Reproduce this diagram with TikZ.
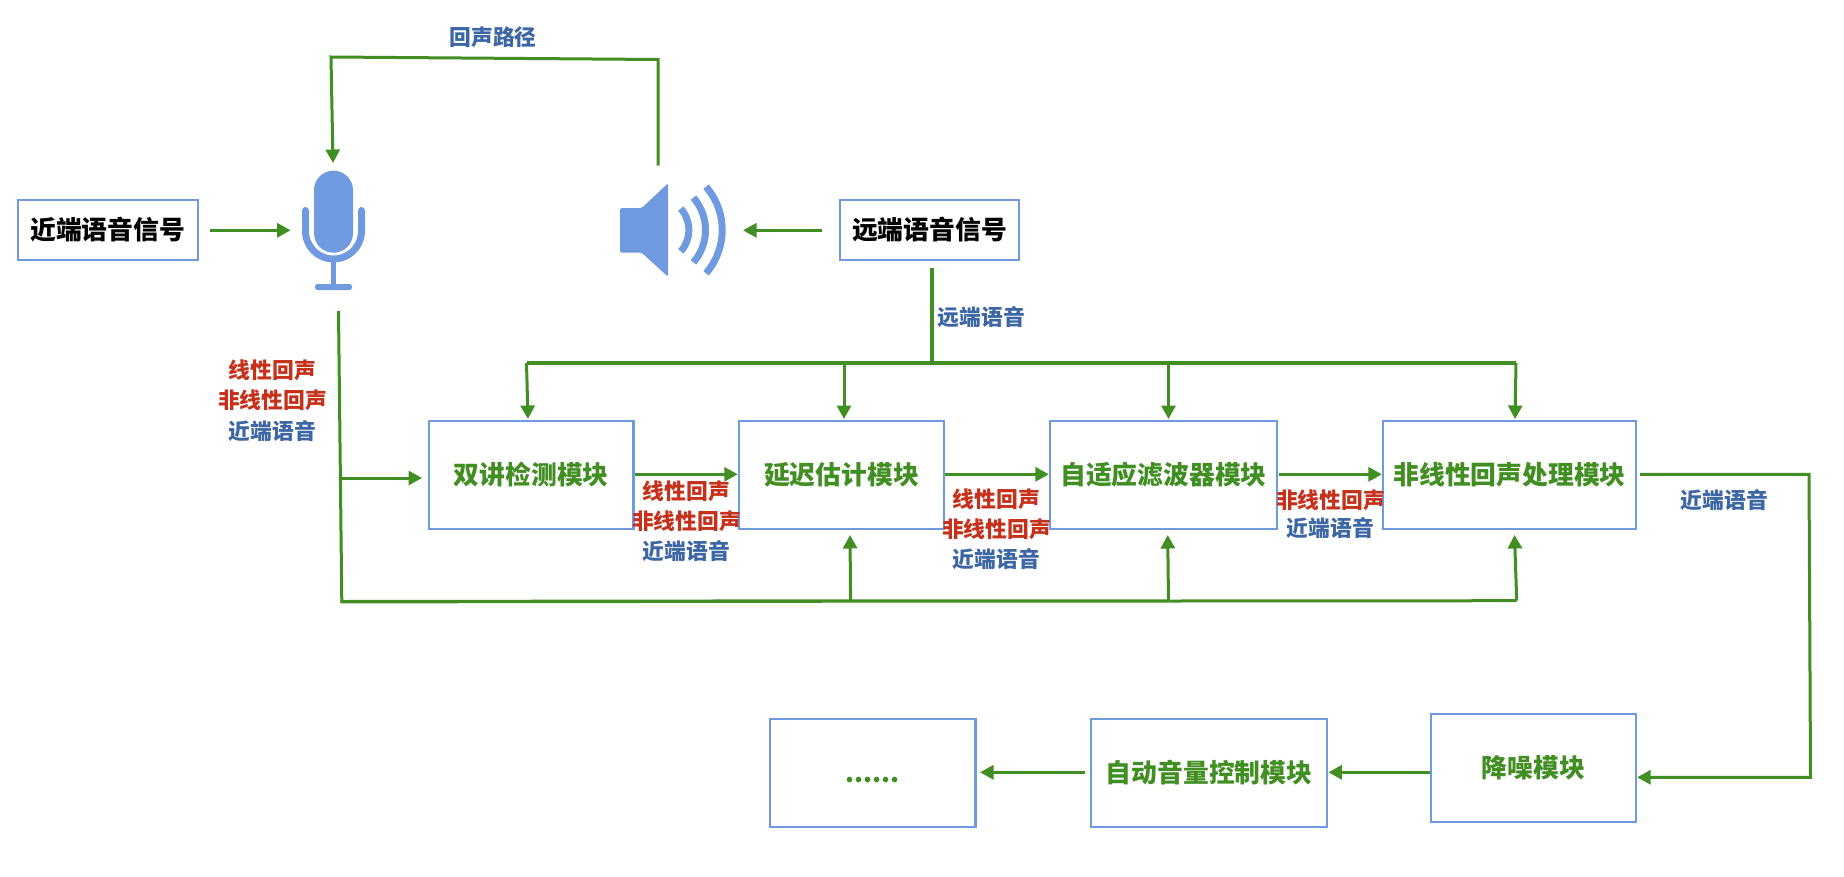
\documentclass[tikz,border=0pt]{standalone}
\usepackage{fontspec}
\setmainfont{Noto Sans CJK SC}
\usetikzlibrary{arrows.meta,calc}
\definecolor{wire}{HTML}{418E22}
\definecolor{edge}{HTML}{6F9ADF}
\definecolor{echo}{HTML}{C5311A}
\definecolor{speech}{HTML}{3D67A4}
\tikzset{
  x=1pt,y=-1pt,
  wireline/.style={draw=wire,line width=3pt,line join=miter},
  busline/.style={draw=wire,line width=3.4pt,line join=miter},
  arr/.style={wireline,-{Triangle[length=13.5pt,width=14pt]}},
  box/.style={draw=edge,line width=2.2pt,fill=white,rectangle,inner sep=0pt,
    text height=20.5pt,text depth=1pt,font=\bfseries\fontsize{25.8}{28}\selectfont},
  signal/.style={box,text=black},
  module/.style={box,text=wire},
  lab/.style={inner sep=0pt,font=\bfseries\fontsize{21.8}{24}\selectfont},
  echolab/.style={lab,text=echo},
  speechlab/.style={lab,text=speech},
  icon/.style={fill=edge,draw=none},
  iconline/.style={draw=edge,line width=7pt}
}
\begin{document}
\begin{tikzpicture}
\useasboundingbox (0,0) rectangle (1844,876);

% boxes
\node[signal,minimum width=180pt,minimum height=60.5pt] (near) at (107.6,230) {近端语音信号};
\node[signal,minimum width=179pt,minimum height=60.5pt] (far) at (929.5,230) {远端语音信号};
\node[module,minimum width=204.5pt,minimum height=108.3pt] (dt) at (531.2,474.8) {双讲检测模块};
\node[module,minimum width=205.3pt,minimum height=108.3pt] (delay) at (841.5,474.8) {延迟估计模块};
\node[module,minimum width=227pt,minimum height=108.3pt] (aec) at (1163.5,474.8) {自适应滤波器模块};
\node[module,minimum width=253pt,minimum height=108.3pt] (nlp) at (1509.5,474.8) {非线性回声处理模块};
\node[module,minimum width=205pt,minimum height=108.3pt] (ns) at (1533.5,768) {降噪模块};
\node[module,minimum width=236.6pt,minimum height=108.3pt] (agc) at (1209,772.8) {自动音量控制模块};
\node[module,minimum width=205.5pt,minimum height=108.3pt] (more) at (872.7,772.8) {......};

% microphone
\fill[icon,rounded corners=19.4pt] (314,170.7) rectangle (353,252.7);
\draw[iconline,line cap=round] (305.5,210.5) -- (305.5,231)
  -- plot[domain=180:0,samples=37,smooth] ({333.5+28*cos(\x)},{231+28*sin(\x)}) -- (361.5,210.5);
\draw[draw=edge,line width=5pt] (333.5,259) -- (333.5,285);
\fill[icon,rounded corners=2.5pt] (315,284) rectangle (352,290);
\node[inner sep=0pt,minimum width=63pt,minimum height=120pt] (mic) at (333.5,230.3) {};

% speaker
\fill[icon,rounded corners=1.5pt] (620,208) -- (641.7,208) -- (668,183.3) -- (668,276.7) -- (641.7,252.7) -- (620,252.7) -- cycle;
\foreach \r in {32.6,49.3,66}{
  \draw[iconline] plot[domain=-41:41,samples=25,smooth] ({656.2+\r*cos(\x)},{230+\r*sin(\x)});
}
\node[inner sep=0pt,minimum width=106pt,minimum height=94pt] (spk) at (673,230) {};

% junctions and free ends
\coordinate (pathTR) at (658,59.5);
\coordinate (pathTL) at (331,57);
\coordinate (pathStart) at (658,165.7);
\coordinate (pathEnd) at (333,163);
\coordinate (farBus) at (932,363);
\coordinate (busL) at (526.5,363);
\coordinate (busD) at (844,363);
\coordinate (busA) at (1168.5,363);
\coordinate (busR) at (1516,363);
\coordinate (micDown) at (338.5,311);
\coordinate (fbCorner) at (341.8,601.7);
\coordinate (fbD) at (850.6,601);
\coordinate (fbA) at (1168.5,601);
\coordinate (fbN) at (1516.7,600.7);
\coordinate (toDt) at (340.3,478);
\coordinate (outA) at (1809,474.3);
\coordinate (outB) at (1810.5,777.3);

% connectors
\draw[arr] (pathStart) -- (pathTR) -- (pathTL) -- (pathEnd);
\draw[arr] (210,230.3) -- (290.6,230.3);
\draw[arr] (822,230.3) -- (743,230.3);
\draw[busline] (932,268) -- (farBus);
\draw[busline] (busL) -- (busR);
\draw[arr] (busL) -- (528,419);
\draw[arr] (busD) -- (844,419);
\draw[arr] (busA) -- (1168.5,419);
\draw[arr] (busR) -- (1515,419);
\draw[wireline] (micDown) -- (fbCorner);
\draw[busline] ($(fbCorner)+(-1.5,0)$) -- (fbD) -- (fbA);
\draw[wireline] (fbA) -- (fbN);
\draw[arr] (toDt) -- (422,478);
\draw[arr] (fbD) -- (850,535);
\draw[arr] (fbA) -- (1167.7,535);
\draw[arr] (fbN) -- (1514.5,535);
\draw[arr] (dt.east |- 0,474.3) -- (delay.west |- 0,474.3);
\draw[arr] (delay.east |- 0,474.3) -- (aec.west |- 0,474.3);
\draw[arr] (1279,474.3) -- (nlp.west |- 0,474.3);
\draw[arr] (1640,474.3) -- (outA) -- (outB) -- (ns.east |- outB);
\draw[arr] (ns.west |- 0,772.3) -- (agc.east |- 0,772.3);
\draw[arr] (1085,772.3) -- (980,772.3);

% labels
\node[speechlab] (lpath) at (493,37) {回声路径};
\node[speechlab] (lfar) at (981.5,317) {远端语音};
\node[echolab] (l1a) at (272.5,370) {线性回声};
\node[echolab] (l1b) at (272.5,400) {非线性回声};
\node[speechlab] (l1c) at (272.5,431) {近端语音};
\node[echolab] (l2a) at (686.5,491.3) {线性回声};
\node[echolab] (l2b) at (686.5,521.3) {非线性回声};
\node[speechlab] (l2c) at (686.5,551.3) {近端语音};
\node[echolab] (l3a) at (996.5,499) {线性回声};
\node[echolab] (l3b) at (996.5,529.3) {非线性回声};
\node[speechlab] (l3c) at (996.5,559) {近端语音};
\node[echolab] (l4b) at (1330.5,500) {非线性回声};
\node[speechlab] (l4c) at (1330.5,528.3) {近端语音};
\node[speechlab] (l5) at (1724.4,500) {近端语音};
\end{tikzpicture}
\end{document}
